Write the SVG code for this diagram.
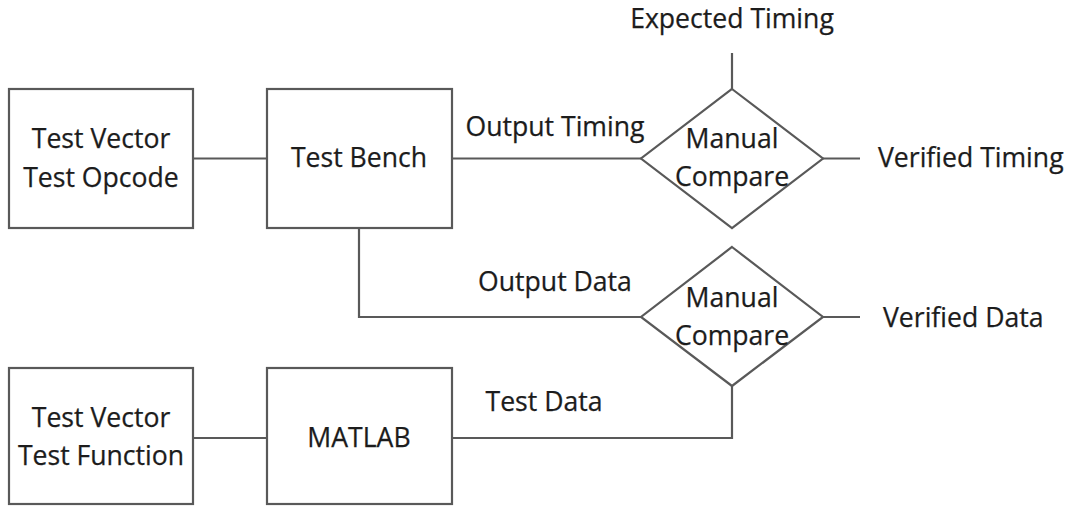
<svg xmlns="http://www.w3.org/2000/svg" width="1073" height="506" viewBox="0 0 1073 506">
  <style>
    .box { fill: #ffffff; stroke: #595959; stroke-width: 2.2; }
    .wire { fill: none; stroke: #595959; stroke-width: 2.2; }
    text { font-family: "Open Sans", "Noto Sans", "Liberation Sans", sans-serif; font-size: 26.6px; fill: #1c1c1c; stroke: #1c1c1c; stroke-width: 0.25; }
    .c { text-anchor: middle; }
  </style>
  <rect width="1073" height="506" fill="#ffffff"/>

  <!-- connectors -->
  <g id="connectors">
    <line class="wire" x1="193" y1="158.5" x2="267" y2="158.5"/>
    <line class="wire" x1="452" y1="158.5" x2="641" y2="158.5"/>
    <polyline class="wire" points="359,228 359,317 641,317"/>
    <line class="wire" x1="732" y1="53" x2="732" y2="89"/>
    <line class="wire" x1="823" y1="158.5" x2="860" y2="158.5"/>
    <line class="wire" x1="823" y1="317" x2="860" y2="317"/>
    <line class="wire" x1="193" y1="438" x2="267" y2="438"/>
    <polyline class="wire" points="452,438 732,438 732,386"/>
    <text x="555" y="136" class="c">Output Timing</text>
    <text x="555" y="291" class="c">Output Data</text>
    <text x="544" y="411" class="c">Test Data</text>
  </g>

  <g id="test-vector-opcode">
    <rect class="box" x="9" y="89" width="184" height="139"/>
    <text x="101" y="148" class="c">Test Vector</text>
    <text x="101" y="187" class="c">Test Opcode</text>
  </g>

  <g id="test-bench">
    <rect class="box" x="267" y="89" width="185" height="139"/>
    <text x="359" y="167" class="c">Test Bench</text>
  </g>

  <g id="test-vector-function">
    <rect class="box" x="9" y="368" width="184" height="136"/>
    <text x="101" y="427" class="c">Test Vector</text>
    <text x="101" y="465" class="c">Test Function</text>
  </g>

  <g id="matlab">
    <rect class="box" x="267" y="368" width="185" height="136"/>
    <text x="359" y="447" class="c">MATLAB</text>
  </g>

  <g id="compare-timing">
    <polygon class="box" points="732,89 823,158.5 732,228 641,158.5"/>
    <text x="732" y="148" class="c">Manual</text>
    <text x="732" y="186" class="c">Compare</text>
  </g>

  <g id="compare-data">
    <polygon class="box" points="732,247 823,317 732,386 641,317"/>
    <text x="732" y="307" class="c">Manual</text>
    <text x="732" y="345" class="c">Compare</text>
  </g>

  <g id="expected-timing">
    <text x="732" y="28" class="c">Expected Timing</text>
  </g>
  <g id="verified-timing">
    <text x="878" y="167">Verified Timing</text>
  </g>
  <g id="verified-data">
    <text x="883" y="327">Verified Data</text>
  </g>
</svg>
